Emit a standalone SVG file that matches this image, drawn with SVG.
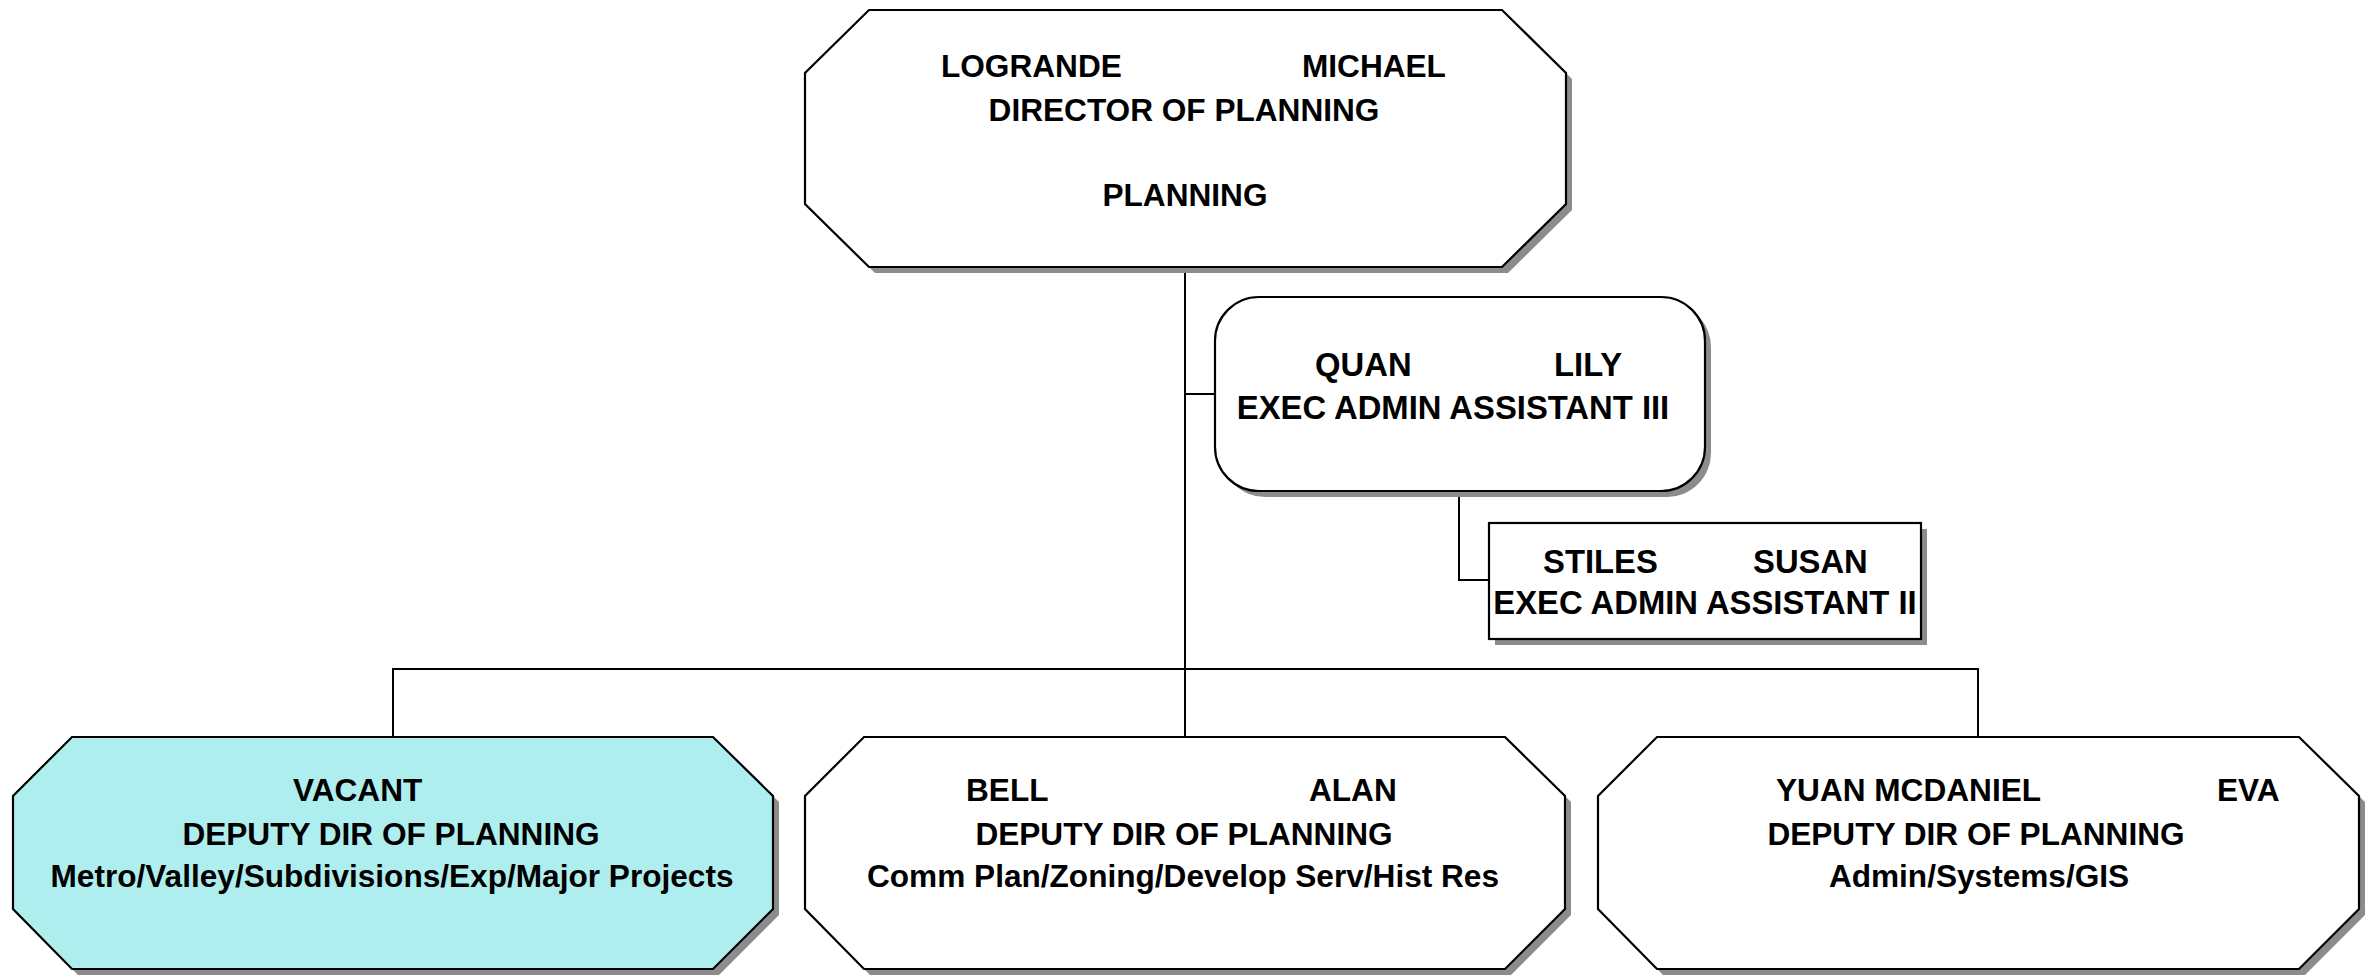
<svg xmlns="http://www.w3.org/2000/svg" width="2368" height="976" viewBox="0 0 2368 976">
<style>
.node{stroke:#000;stroke-width:2.2;fill:#fff}
.vac{fill:#afeeee}
.shadow{fill:#8c8c8c;stroke:none}
.t{font-family:"Liberation Sans",Arial,sans-serif;font-weight:bold;font-size:31.6px;fill:#000}
.s{font-size:32.8px}
.c{text-anchor:middle}
.conn{stroke:#000;stroke-width:2;fill:none}
</style>
<rect width="2368" height="976" fill="#fff"/>
<g id="connectors">
<path class="conn" d="M1185,267 V737"/>
<path class="conn" d="M1185,394 H1215"/>
<path class="conn" d="M1459,492 V580 H1489"/>
<path class="conn" d="M393,737 V669 H1978 V737"/>
</g>
<g id="node-logrande">
<path class="shadow" d="M875,16 H1508 L1572,79 V210 L1508,273 H875 L811,210 V79 Z"/>
<path class="node" d="M869,10 H1502 L1566,73 V204 L1502,267 H869 L805,204 V73 Z"/>
<text class="t" x="941" y="77">LOGRANDE</text>
<text class="t" x="1302" y="77">MICHAEL</text>
<text class="t c" x="1184" y="121">DIRECTOR OF PLANNING</text>
<text class="t c" x="1185" y="206">PLANNING</text>
</g>
<g id="node-quan">
<rect class="shadow" x="1221" y="303" width="490" height="194" rx="44"/>
<rect class="node" x="1215" y="297" width="490" height="194" rx="44"/>
<text class="t s" x="1315" y="376">QUAN</text>
<text class="t s" x="1554" y="376">LILY</text>
<text class="t s c" x="1453" y="419">EXEC ADMIN ASSISTANT III</text>
</g>
<g id="node-stiles">
<rect class="shadow" x="1495" y="529" width="432" height="116"/>
<rect class="node" x="1489" y="523" width="432" height="116"/>
<text class="t s" x="1543" y="573">STILES</text>
<text class="t s" x="1753" y="573">SUSAN</text>
<text class="t s c" x="1705" y="614">EXEC ADMIN ASSISTANT II</text>
</g>
<g id="node-vacant">
<path class="shadow" d="M78,743 H719 L779,802 V915 L719,975 H78 L19,915 V802 Z"/>
<path class="node vac" d="M72,737 H713 L773,796 V909 L713,969 H72 L13,909 V796 Z"/>
<text class="t" x="293" y="801">VACANT</text>
<text class="t c" x="391" y="845">DEPUTY DIR OF PLANNING</text>
<text class="t c" x="392" y="887">Metro/Valley/Subdivisions/Exp/Major Projects</text>
</g>
<g id="node-bell">
<path class="shadow" d="M870,743 H1511 L1571,802 V915 L1511,975 H870 L811,915 V802 Z"/>
<path class="node" d="M864,737 H1505 L1565,796 V909 L1505,969 H864 L805,909 V796 Z"/>
<text class="t" x="966" y="801">BELL</text>
<text class="t" x="1309" y="801">ALAN</text>
<text class="t c" x="1184" y="845">DEPUTY DIR OF PLANNING</text>
<text class="t c" x="1183" y="887">Comm Plan/Zoning/Develop Serv/Hist Res</text>
</g>
<g id="node-yuan">
<path class="shadow" d="M1663,743 H2305 L2365,802 V915 L2305,975 H1663 L1604,915 V802 Z"/>
<path class="node" d="M1657,737 H2299 L2359,796 V909 L2299,969 H1657 L1598,909 V796 Z"/>
<text class="t" x="1776" y="801">YUAN MCDANIEL</text>
<text class="t" x="2217" y="801">EVA</text>
<text class="t c" x="1976" y="845">DEPUTY DIR OF PLANNING</text>
<text class="t c" x="1979" y="887">Admin/Systems/GIS</text>
</g>
</svg>
